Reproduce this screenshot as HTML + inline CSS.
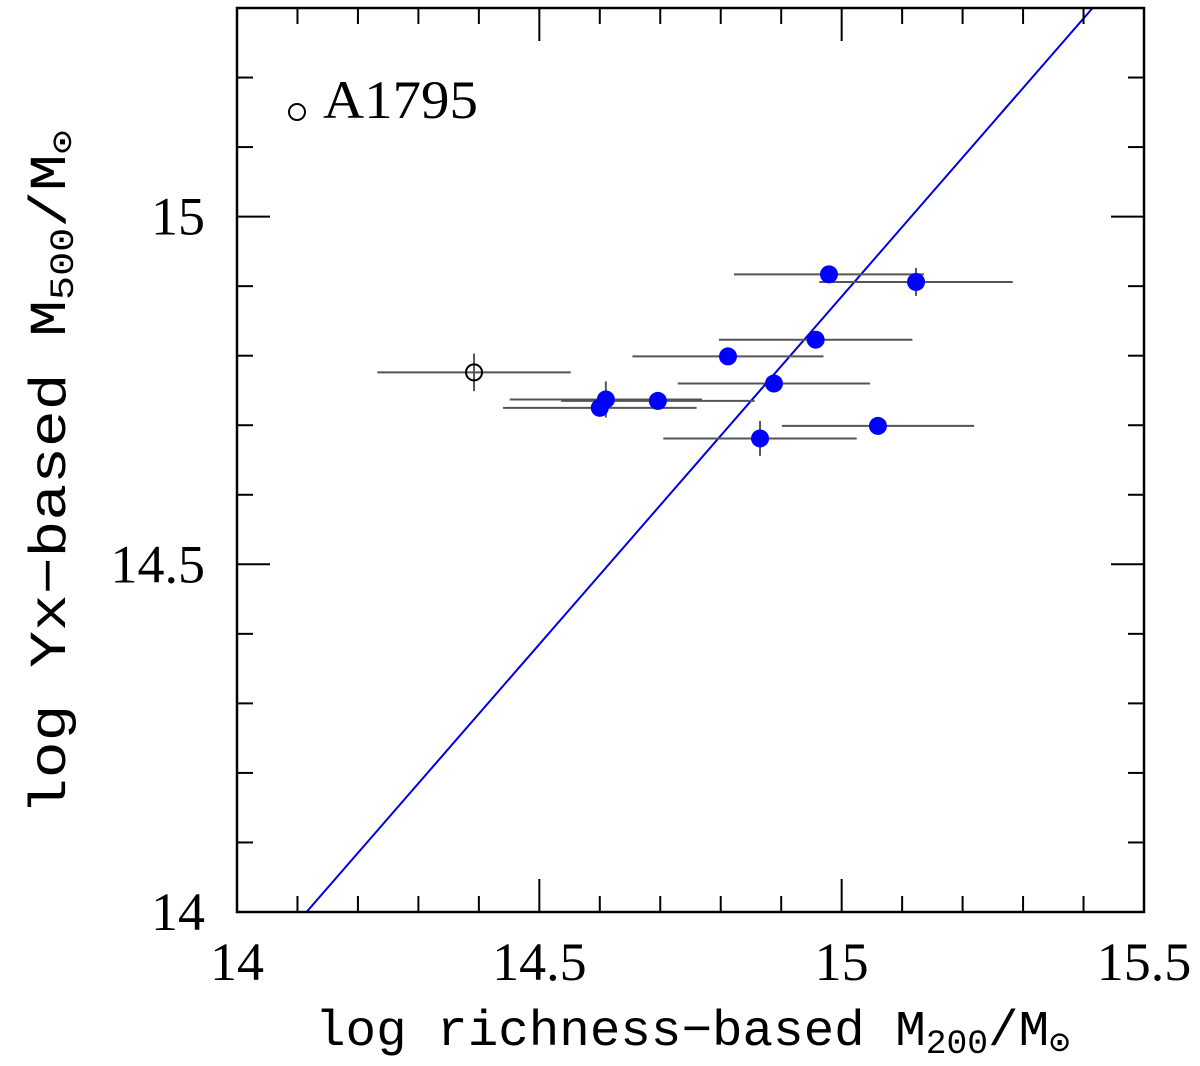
<!DOCTYPE html>
<html><head><meta charset="utf-8"><style>
html,body{margin:0;padding:0;background:#fff;}
svg{display:block;font-family:"Liberation Serif",serif;}
</style></head><body>
<svg id="chart" width="1200" height="1066" viewBox="0 0 1200 1066" xmlns="http://www.w3.org/2000/svg">
<g id="marks"></g>
</svg>
<script>
const ptX   = [14.979,15.123,14.957,14.812,14.888,14.610,14.600,14.696,14.865,15.060];
const ptY   = [14.917,14.906,14.823,14.799,14.760,14.737,14.725,14.735,14.681,14.699];
const ptXe  = [0.157,0.160,0.160,0.158,0.159,0.159,0.160,0.160,0.160,0.159];
const ptYe  = [0.010,0.020,0.008,0.008,0.008,0.026,0.008,0.008,0.025,0.008];
const openX = [14.392], openY=[14.776], openXe=[0.160], openYe=[0.027];
const fitSlope = 1.0, fitIntercept = -0.115;
const xTicks = [14,14.5,15,15.5], xTickLabels=["14","14.5","15","15.5"];
const yTicks = [14,14.5,15], yTickLabels=["14","14.5","15"];

const L=237,R=1144,T=8,B=912, X0=14,X1=15.5,Y0=14,Y1=15.3;
const sx=v=>L+(v-X0)/(X1-X0)*(R-L);
const sy=v=>B-(v-Y0)/(Y1-Y0)*(B-T);
const NS="http://www.w3.org/2000/svg";
const g=document.getElementById('marks');
function mk(tag,attrs,parent){const e=document.createElementNS(NS,tag);for(const k in attrs)e.setAttribute(k,attrs[k]);(parent||g).appendChild(e);return e;}

const defs=mk('defs',{});const cp=mk('clipPath',{id:'cp'},defs);mk('rect',{x:L,y:T,width:R-L,height:B-T},cp);

const fl=mk('line',{x1:sx(X0),y1:sy(fitSlope*X0+fitIntercept),x2:sx(X1),y2:sy(fitSlope*X1+fitIntercept),stroke:'#0000dd','stroke-width':2,'clip-path':'url(#cp)'});



function errbars(x,y,xe,ye,name){
  const a=mk('line',{x1:sx(x-xe),x2:sx(x+xe),y1:sy(y),y2:sy(y),stroke:'#555','stroke-width':2});
  
  
  const b=mk('line',{x1:sx(x),x2:sx(x),y1:sy(y-ye),y2:sy(y+ye),stroke:'#555','stroke-width':2});
  
  
}
for(let i=0;i<ptX.length;i++) errbars(ptX[i],ptY[i],ptXe[i],ptYe[i],'point-'+i);
for(let i=0;i<openX.length;i++) errbars(openX[i],openY[i],openXe[i],openYe[i],'a1795');
for(let i=0;i<ptX.length;i++){
  const c=mk('circle',{cx:sx(ptX[i]),cy:sy(ptY[i]),r:9,fill:'#0000ff'});
  
  
}
for(let i=0;i<openX.length;i++){
  const c=mk('circle',{cx:sx(openX[i]),cy:sy(openY[i]),r:8,fill:'none',stroke:'#000','stroke-width':2});
  
  
}

const fr=mk('rect',{x:L,y:T,width:R-L,height:B-T,fill:'none',stroke:'#000','stroke-width':2.5});



for(let v=14;v<=15.5001;v+=0.1){
  const major=Math.abs(v*2-Math.round(v*2))<1e-6, len=major?33:16, x=sx(v);
  mk('line',{x1:x,x2:x,y1:B,y2:B-len,stroke:'#000','stroke-width':2});
  mk('line',{x1:x,x2:x,y1:T,y2:T+len,stroke:'#000','stroke-width':2});
}
for(let v=14;v<=15.3001;v+=0.1){
  const major=Math.abs(v*2-Math.round(v*2))<1e-6, len=major?33:16, y=sy(v);
  mk('line',{x1:L,x2:L+len,y1:y,y2:y,stroke:'#000','stroke-width':2});
  mk('line',{x1:R,x2:R-len,y1:y,y2:y,stroke:'#000','stroke-width':2});
}
xTicks.forEach((v,i)=>{
  const t=mk('text',{x:sx(v),y:980,'font-size':54,'text-anchor':'middle'});t.textContent=xTickLabels[i];
  
  
});
yTicks.forEach((v,i)=>{
  const t=mk('text',{x:205,y:sy(v)+18,'font-size':54,'text-anchor':'end'});t.textContent=yTickLabels[i];
  
  
});
</script>
<svg style="position:absolute;left:0;top:0" width="1200" height="1066" xmlns="http://www.w3.org/2000/svg">
<circle cx="297" cy="112" r="8" fill="none" stroke="#000" stroke-width="2"/>
<text x="323" y="118" font-size="54" textLength="155" lengthAdjust="spacingAndGlyphs" font-family="Liberation Serif,serif">A1795</text>
<text x="315" y="1045" font-size="50" textLength="755" lengthAdjust="spacingAndGlyphs" font-family="Liberation Mono,monospace">log richness−based M<tspan font-size="34" dy="8">200</tspan><tspan dy="-8">/M</tspan><tspan font-size="34" dy="8">⊙</tspan></text>
<text transform="translate(65,815) rotate(-90)" x="0" y="0" font-size="52" textLength="685" lengthAdjust="spacingAndGlyphs" font-family="Liberation Mono,monospace">log Yx−based M<tspan font-size="34" dy="8">500</tspan><tspan dy="-8">/M</tspan><tspan font-size="34" dy="8">⊙</tspan></text>
</svg>
</body></html>
